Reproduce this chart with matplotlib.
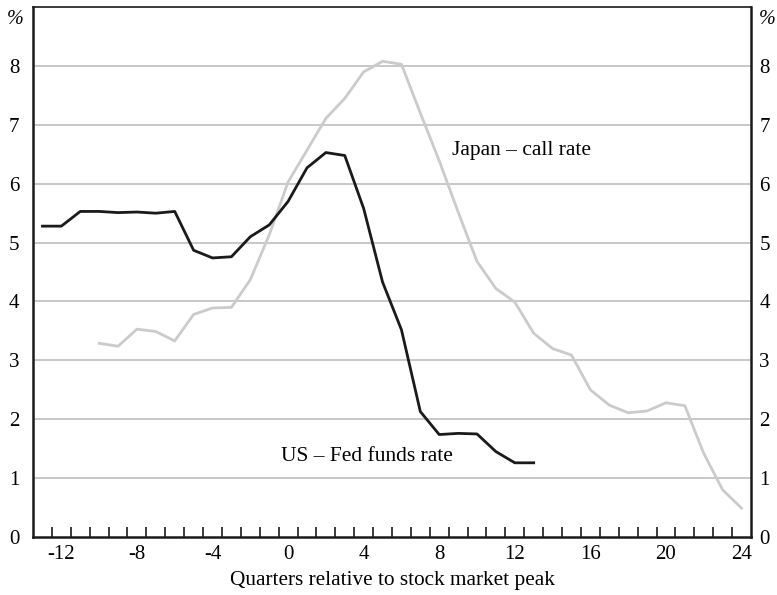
import numpy as np
import matplotlib.pyplot as plt
from matplotlib.ticker import FixedLocator

plt.rcParams['font.family'] = ['Liberation Serif', 'DejaVu Serif']

# Quarters relative to stock market peak
us_quarters = np.arange(-13, 14)
us_fed_funds = [5.28, 5.28, 5.53, 5.53, 5.51, 5.52, 5.50, 5.53, 4.87, 4.74,
                4.76, 5.10, 5.30, 5.70, 6.27, 6.53, 6.48, 5.58, 4.33, 3.52,
                2.13, 1.74, 1.76, 1.75, 1.45, 1.26, 1.26]

jp_quarters = np.arange(-10, 25)
jp_call_rate = [3.29, 3.24, 3.53, 3.49, 3.33, 3.78, 3.89, 3.90, 4.37, 5.13,
                6.03, 6.57, 7.11, 7.45, 7.90, 8.08, 8.03, 7.20, 6.39, 5.52,
                4.68, 4.22, 3.99, 3.46, 3.20, 3.09, 2.50, 2.24, 2.11, 2.14,
                2.28, 2.23, 1.42, 0.80, 0.49]

x_labels = ['-12', '-8', '-4', '0', '4', '8', '12', '16', '20', '24']

fig = plt.figure(figsize=(7.77, 5.95), dpi=100)
ax = fig.add_axes([0.0425, 0.0975, 0.924, 0.8905])

ax.plot(jp_quarters, jp_call_rate, color='#cbcbcb', lw=2.0, zorder=3)
ax.plot(us_quarters, us_fed_funds, color='#1a1a1a', lw=2.0, zorder=4)

ax.set_xlim(-13.5, 24.5)
ax.set_ylim(0, 9)

# horizontal grid
for v in range(1, 9):
    ax.axhline(v, color='#c4c4c4', lw=1.3, zorder=1)

ax.set_yticks(range(0, 9))
ax.tick_params(axis='y', length=0, labelsize=15, pad=10)

# right-hand duplicate scale
ax2 = ax.twinx()
ax2.set_ylim(0, 9)
ax2.set_yticks(range(0, 9))
ax2.tick_params(axis='y', length=0, labelsize=15, pad=6)
for s in ax2.spines.values():
    s.set_visible(False)

ax.xaxis.set_major_locator(FixedLocator(np.arange(-12, 25, 4)))
ax.xaxis.set_minor_locator(FixedLocator(np.arange(-12.5, 24, 1)))
ax.tick_params(axis='x', which='major', length=0, labelsize=15, pad=6)
ax.tick_params(axis='x', which='minor', direction='in', length=7, width=1.2, color='#1a1a1a')
ax.set_xticklabels(x_labels)

for s in ['left', 'right', 'bottom']:
    ax.spines[s].set_linewidth(1.8)
    ax.spines[s].set_color('#1a1a1a')
ax.spines['top'].set_linewidth(1.2)
ax.spines['top'].set_color('#1a1a1a')

ax.set_xlabel('Quarters relative to stock market peak', fontsize=15.3, labelpad=5)

ax.text(8.67, 6.57, 'Japan \u2013 call rate', fontsize=15.5, va='center', ha='left', zorder=5)
ax.text(-0.38, 1.36, 'US \u2013 Fed funds rate', fontsize=15.5, va='center', ha='left', zorder=5)

fig.text(0.020, 0.967, '%', fontsize=14.5, style='italic', ha='center', va='center')
fig.text(0.988, 0.967, '%', fontsize=14.5, style='italic', ha='center', va='center')

fig.savefig('out.png', dpi=100)
